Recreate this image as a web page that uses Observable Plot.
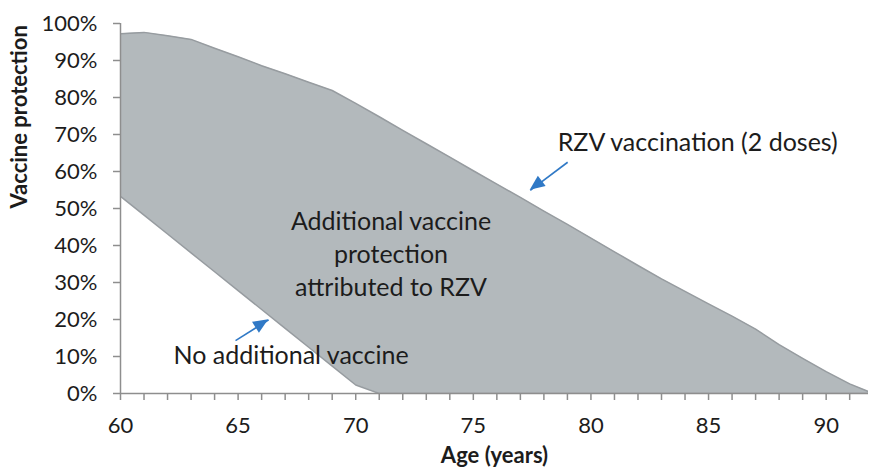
<!DOCTYPE html>
<html><head><meta charset="utf-8">
<script src="https://cdn.jsdelivr.net/npm/d3@7"></script>
<script src="https://cdn.jsdelivr.net/npm/@observablehq/plot@0.6"></script>
<style>body{margin:0;background:#fff} #chart{width:869px;height:476px}</style>
</head><body><div id="chart"></div>
<script>
const ages = [60,61,62,63,64,65,66,67,68,69,70,71,72,73,74,75,76,77,78,79,80,81,82,83,84,85,86,87,88,89,90,91,92];
const rzv = [97.2,97.6,96.7,95.7,93.3,91.0,88.6,86.4,84.1,81.9,78.4,74.8,71.1,67.5,63.9,60.2,56.6,53.0,49.3,45.7,42.0,38.3,34.6,31.0,27.6,24.2,20.9,17.4,13.2,9.5,5.9,2.6,0];
const noAdditional = [53.3,48.2,43.1,38.0,32.9,27.8,22.7,17.6,12.5,7.4,2.3,0,0,0,0,0,0,0,0,0,0,0,0,0,0,0,0,0,0,0,0,0,0];
const yTicks = [0,10,20,30,40,50,60,70,80,90,100];
const xTicks = [60,61,62,63,64,65,66,67,68,69,70,71,72,73,74,75,76,77,78,79,80,81,82,83,84,85,86,87,88,89,90,91];
const xLabels = [60,65,70,75,80,85,90];
const arrows = [
  {x1: 79.01, y1: 62.5, x2: 77.42, y2: 54.9},
  {x1: 64.89, y1: 14.3, x2: 66.30, y2: 19.9}
];
const labels = [
  {x: 84.54, y: 68.4, text: "RZV vaccination (2 doses)"},
  {x: 71.5, y: 38.1, text: "Additional vaccine\nprotection\nattributed to RZV"},
  {x: 67.25, y: 10.8, text: "No additional vaccine"}
];
const data = ages.map((a, i) => ({age: a, upper: rzv[i], lower: noAdditional[i]}));

const axisGray = "#8e8e8e";
const textColor = "#1c1c1c";
const arrowBlue = "#3079c6";

const plot = Plot.plot({
  width: 869, height: 476,
  marginLeft: 120, marginRight: 1, marginTop: 23, marginBottom: 83,
  style: {fontFamily: "Lato, sans-serif", fontSize: "22px", color: textColor, background: "#fff"},
  x: {domain: [60, 91.8], axis: null},
  y: {domain: [0, 100], axis: null},
  marks: [
    Plot.areaY(data, {x: "age", y1: "lower", y2: "upper", fill: "#b3b9bc", clip: true}),
    Plot.lineY(data, {x: "age", y: "upper", stroke: "#979ca0", strokeWidth: 1.5, clip: true}),
    Plot.lineY(data, {x: "age", y: "lower", stroke: "#979ca0", strokeWidth: 1.5, clip: true}),
    Plot.ruleY([0], {stroke: axisGray, strokeWidth: 1.5}),
    Plot.ruleX([60], {y1: 0, y2: 100, stroke: axisGray, strokeWidth: 1.5}),
    Plot.axisY({ticks: yTicks, tickFormat: d => d + "%", tickSize: 7, tickPadding: 16, fontSize: 22,
      stroke: axisGray, strokeWidth: 1.5, fill: textColor, label: null}),
    Plot.axisX({ticks: xTicks, tickFormat: d => xLabels.includes(d) ? String(d) : "", tickSize: 7, tickPadding: 17,
      fontSize: 22, stroke: axisGray, strokeWidth: 1.5, fill: textColor, label: null}),
    Plot.text(labels, {x: "x", y: "y", text: "text", fontSize: 25, fill: textColor, lineHeight: 1.32}),
    Plot.link(arrows, {x1: "x1", y1: "y1", x2: "x2", y2: "y2", stroke: arrowBlue, strokeWidth: 1.6}),
    Plot.text(["Age (years)"], {text: d => d, frameAnchor: "bottom", dy: 69, fontWeight: "bold", fontSize: 22, fill: textColor}),
    Plot.text(["Vaccine protection"], {text: d => d, frameAnchor: "left", dx: -101, rotate: -90, fontWeight: "bold", fontSize: 22, fill: textColor})
  ]
});

// filled arrow heads positioned through the plot's scales
const sx = plot.scale("x"), sy = plot.scale("y");
const svg = d3.select(plot);
for (const a of arrows) {
  const tx = sx.apply(a.x2), ty = sy.apply(a.y2);
  const bx = sx.apply(a.x1), by = sy.apply(a.y1);
  const dx = tx - bx, dy = ty - by, len = Math.hypot(dx, dy);
  const ux = dx / len, uy = dy / len;
  const hl = 15, hw = 6.5;
  const cx = tx - ux * hl, cy = ty - uy * hl;
  const pts = [[tx, ty], [cx - uy * hw, cy + ux * hw], [cx + uy * hw, cy - ux * hw]];
  svg.append("polygon").attr("points", pts.map(p => p.join(",")).join(" ")).attr("fill", arrowBlue);
}
document.getElementById("chart").appendChild(plot);
</script>
</body></html>
